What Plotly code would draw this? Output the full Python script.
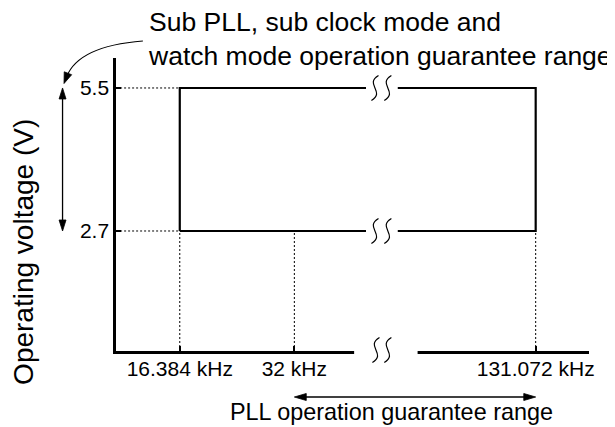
import math
import plotly.graph_objects as go

# The page body adds an 8 px margin, so the figure is 8 px smaller than the window
OFF = 8
W, H = 615 - OFF, 427 - OFF

# ---------------- data ----------------
voltage_levels = [2.7, 5.5]
voltage_labels = ["2.7", "5.5"]
freq_khz = [16.384, 32, 131.072]
freq_labels = ["16.384 kHz", "32 kHz", "131.072 kHz"]
y_title = "Operating voltage (V)"
sub_range_text = "Sub PLL, sub clock mode and<br>watch mode operation guarantee range"
pll_range_text = "PLL operation guarantee range"

# ---------------- layout geometry (window pixels) ----------------
X_DOMAIN_PX = (117, 594)      # left, right
Y_DOMAIN_PX = (58, 351)       # top, bottom
X_RANGE = [1.05285, 2.25324]  # log10(kHz)
Y_RANGE = [0.3503, 6.087]     # volts
FONT = "Liberation Sans, Arial, sans-serif"


def px(x):
    return (x - OFF) / W


def py(y):
    return 1 - (y - OFF) / H


# same linear mapping plotly applies for these axes (domain + range)
def x_page(f):
    t = (math.log10(f) - X_RANGE[0]) / (X_RANGE[1] - X_RANGE[0])
    return X_DOMAIN_PX[0] + t * (X_DOMAIN_PX[1] - X_DOMAIN_PX[0])


def y_page(v):
    t = (v - Y_RANGE[0]) / (Y_RANGE[1] - Y_RANGE[0])
    return Y_DOMAIN_PX[1] - t * (Y_DOMAIN_PX[1] - Y_DOMAIN_PX[0])


v_lo, v_hi = voltage_levels
f_lo, f_mid, f_hi = freq_khz
x_min = 10 ** X_RANGE[0]
y_min = Y_RANGE[0]

fig = go.Figure()

# guarantee range rectangle
fig.add_trace(go.Scatter(
    x=[f_lo, f_lo, f_hi, f_hi, f_lo],
    y=[v_lo, v_hi, v_hi, v_lo, v_lo],
    mode="lines", line=dict(color="black", width=2.2),
    hoverinfo="skip", showlegend=False))

# dotted guides from the voltage axis
for v in voltage_levels:
    fig.add_trace(go.Scatter(
        x=[x_min, f_lo], y=[v, v], mode="lines",
        line=dict(color="black", width=1, dash="2px,2px"),
        hoverinfo="skip", showlegend=False, cliponaxis=False))

# dotted guides down to the frequency axis
for f in freq_khz:
    fig.add_trace(go.Scatter(
        x=[f, f], y=[y_min, v_lo], mode="lines",
        line=dict(color="black", width=1, dash="2px,2px"),
        hoverinfo="skip", showlegend=False, cliponaxis=False))

shapes = []


def white_gap(x0, x1, yc, half=5):
    shapes.append(dict(type="rect", xref="paper", yref="paper",
                       x0=px(x0), x1=px(x1), y0=py(yc + half), y1=py(yc - half),
                       fillcolor="white", line=dict(width=0), layer="above"))


def squiggle(xc, yc, h=12.5, w=6.5):
    d = "M {},{} C {},{} {},{} {},{}".format(
        px(xc + w * 0.55), py(yc - h),
        px(xc - w * 1.7), py(yc - h * 0.3),
        px(xc + w * 1.7), py(yc + h * 0.3),
        px(xc - w * 0.55), py(yc + h))
    shapes.append(dict(type="path", xref="paper", yref="paper", path=d,
                       line=dict(color="black", width=1.2), layer="above"))


def head(tip, ux, uy, length=11, half=3.5):
    bx, by = tip[0] - ux * length, tip[1] - uy * length
    nx, ny = -uy, ux
    pts = [tip, (bx + nx * half, by + ny * half), (bx - nx * half, by - ny * half)]
    shapes.append(dict(type="path", xref="paper", yref="paper",
                       path="M {},{} L {},{} L {},{} Z".format(
                           *[c for p in pts for c in (px(p[0]), py(p[1]))]),
                       fillcolor="black", line=dict(color="black", width=0.8), layer="above"))


def double_arrow(p0, p1, length=11, half=3.5, lw=1.3):
    dx, dy = p1[0] - p0[0], p1[1] - p0[1]
    n = math.hypot(dx, dy)
    ux, uy = dx / n, dy / n
    a = (p0[0] + ux * length * 0.7, p0[1] + uy * length * 0.7)
    b = (p1[0] - ux * length * 0.7, p1[1] - uy * length * 0.7)
    shapes.append(dict(type="line", xref="paper", yref="paper",
                       x0=px(a[0]), y0=py(a[1]), x1=px(b[0]), y1=py(b[1]),
                       line=dict(color="black", width=lw), layer="above"))
    head(p0, -ux, -uy, length, half)
    head(p1, ux, uy, length, half)


# break on the rectangle edges
for v in voltage_levels:
    yc = y_page(v)
    white_gap(369, 401, yc)
    squiggle(378, yc)
    squiggle(391, yc)

# break on the frequency axis
white_gap(357, 421, Y_DOMAIN_PX[1])
squiggle(379, 350)
squiggle(391, 350)

# voltage range double arrow (left of the axis)
double_arrow((63, y_page(v_hi)), (63, y_page(v_lo)))

# PLL range double arrow (below the frequency labels)
double_arrow((x_page(f_mid), 397), (x_page(f_hi), 397), length=12)

# curved arrow from text to the voltage-range arrow
p0, c, p2 = (144, 41), (79, 46), (67, 77)
shapes.append(dict(type="path", xref="paper", yref="paper",
                   path="M {},{} Q {},{} {},{}".format(px(p0[0]), py(p0[1]), px(c[0]), py(c[1]),
                                                     px(p2[0]), py(p2[1])),
                   line=dict(color="black", width=1.2), layer="above"))
dx, dy = p2[0] - c[0], p2[1] - c[1]
nn = math.hypot(dx, dy)
ux, uy = dx / nn, dy / nn
head((p2[0] + ux * 7, p2[1] + uy * 7), ux, uy, 11, 4)

annotations = [
    dict(text=y_title, x=px(23), y=py(252), xref="paper", yref="paper",
         xanchor="center", yanchor="middle",
         textangle=-90, showarrow=False, font=dict(size=28, color="black")),
    dict(text=sub_range_text, x=px(147), y=py(39), xref="paper", yref="paper",
         xanchor="left", yanchor="middle", align="left", showarrow=False,
         font=dict(size=26.5, color="black")),
    dict(text=pll_range_text, x=px(395), y=py(412), xref="paper", yref="paper",
         xanchor="center", yanchor="middle",
         showarrow=False, font=dict(size=23.4, color="black")),
]

fig.update_layout(
    width=W, height=H, autosize=False,
    margin=dict(l=0, r=0, t=0, b=0),
    paper_bgcolor="white", plot_bgcolor="white",
    font=dict(family=FONT, color="black"),
    shapes=shapes, annotations=annotations,
    xaxis=dict(type="log", range=X_RANGE, domain=[px(X_DOMAIN_PX[0]), px(X_DOMAIN_PX[1])],
               showline=True, linecolor="black", linewidth=2.5, mirror=False,
               showgrid=False, zeroline=False,
               tickmode="array", tickvals=freq_khz, ticktext=freq_labels,
               ticks="inside", ticklen=5, tickwidth=1.5, tickcolor="black",
               ticklabelstandoff=-3,
               tickfont=dict(size=21, color="black"), fixedrange=True),
    yaxis=dict(range=Y_RANGE, domain=[py(Y_DOMAIN_PX[1]), py(Y_DOMAIN_PX[0])],
               showline=True, linecolor="black", linewidth=2.5,
               showgrid=False, zeroline=False,
               tickmode="array", tickvals=voltage_levels, ticktext=voltage_labels,
               ticks="inside", ticklen=5, tickwidth=1.5, tickcolor="black",
               tickfont=dict(size=21, color="black"), fixedrange=True),
)

fig.write_html("out.html")
